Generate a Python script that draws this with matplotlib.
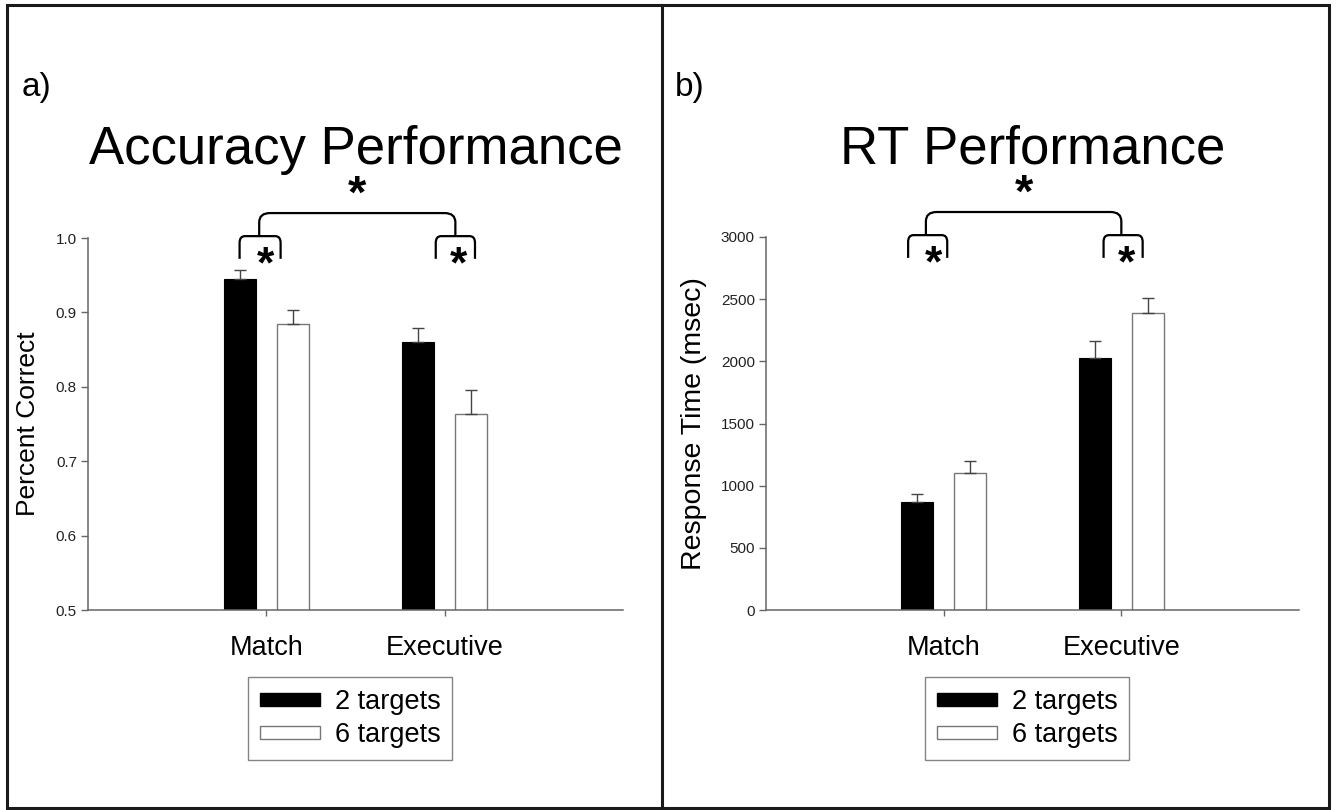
import numpy as np
import matplotlib
matplotlib.use('Agg')
import matplotlib.pyplot as plt
from matplotlib.path import Path
from matplotlib.patches import PathPatch, Patch, Rectangle
from matplotlib.lines import Line2D
import matplotlib.transforms as mtransforms

plt.rcParams['font.family'] = ['Liberation Sans', 'DejaVu Sans']

# Data
conditions = ['Match', 'Executive']
series_names = ['2 targets', '6 targets']

acc_2 = [0.945, 0.860]
acc_2_err = [0.012, 0.019]
acc_6 = [0.884, 0.763]
acc_6_err = [0.019, 0.033]

rt_2 = [869, 2027]
rt_2_err = [64, 136]
rt_6 = [1102, 2389]
rt_6_err = [96, 120]

acc_ticks = [0.5, 0.6, 0.7, 0.8, 0.9, 1.0]
rt_ticks = [0, 500, 1000, 1500, 2000, 2500, 3000]

W, H = 1339, 810
fig = plt.figure(figsize=(W / 100, H / 100), dpi=100)

spine_col = '#666666'
x = np.arange(len(conditions))
bw = 0.18
off = 0.15


def bracket(ax, x0, x1, y_bot, y_top, rx, ry, lw=1.6):
    # x in data units, y in axes fraction
    trans = mtransforms.blended_transform_factory(ax.transData, ax.transAxes)
    verts = [(x0, y_bot), (x0, y_top - ry), (x0, y_top), (x0 + rx, y_top),
             (x1 - rx, y_top), (x1, y_top), (x1, y_top - ry), (x1, y_bot)]
    codes = [Path.MOVETO, Path.LINETO, Path.CURVE3, Path.CURVE3,
             Path.LINETO, Path.CURVE3, Path.CURVE3, Path.LINETO]
    ax.add_patch(PathPatch(Path(verts, codes), fill=False, lw=lw,
                           edgecolor='black', transform=trans, clip_on=False))


def star(ax, xs, ys, size):
    trans = mtransforms.blended_transform_factory(ax.transData, ax.transAxes)
    ax.text(xs, ys, '*', transform=trans, ha='center', va='center',
            fontsize=size, fontweight='bold', clip_on=False)


def panel(rect, v2, e2, v6, e6, ylim, yticks, ylabel, ylabel_size, ylabel_x,
          title, letter, letter_x, brk):
    ax = fig.add_axes(rect)
    ax.bar(x - off, v2, bw, color='black', edgecolor='black', lw=0.8)
    ax.bar(x + off, v6, bw, color='white', edgecolor='#777777', lw=1.0)
    ax.errorbar(x - off, v2, yerr=[np.zeros(2), e2], fmt='none',
                ecolor='#444444', elinewidth=1.0, capsize=4, capthick=1.0)
    ax.errorbar(x + off, v6, yerr=[np.zeros(2), e6], fmt='none',
                ecolor='#444444', elinewidth=1.0, capsize=4, capthick=1.0)
    ax.set_xlim(-1, 2)
    ax.set_ylim(*ylim)
    ax.set_yticks(yticks)
    ax.set_xticks(x)
    ax.set_xticklabels(conditions, fontsize=19.5)
    if ylim[1] < 2:
        ax.set_yticklabels(['%.1f' % t for t in yticks])
    for s in ['top', 'right']:
        ax.spines[s].set_visible(False)
    for s in ['left', 'bottom']:
        ax.spines[s].set_color(spine_col)
        ax.spines[s].set_linewidth(1.1)
    ax.tick_params(axis='y', direction='out', length=5, width=1,
                   color=spine_col, labelsize=11, pad=3, labelcolor='#222222')
    ax.tick_params(axis='x', direction='out', length=4, width=1,
                   color=spine_col, pad=14, labelcolor='black')
    ax.set_ylabel(ylabel, fontsize=ylabel_size)
    ax.yaxis.set_label_coords(ylabel_x, 0.5)
    ax.set_title(title, fontsize=38, pad=53)

    fig.text(letter_x, 1 - 96 / H, letter, fontsize=24)

    # significance brackets
    (s1, s2, big) = brk
    bracket(ax, s1[0], s1[1], 0.944, 1.005, 0.03, 0.018)
    bracket(ax, s2[0], s2[1], 0.944, 1.005, 0.03, 0.018)
    bracket(ax, big[0], big[1], 1.005, 1.067, 0.06, 0.025)
    star(ax, (s1[0] + s1[1]) / 2 + 0.03, 0.925, 32)
    star(ax, (s2[0] + s2[1]) / 2 + 0.02, 0.925, 32)
    star(ax, (big[0] + big[1]) / 2, 1.113, 34)

    handles = [Patch(facecolor='black', edgecolor='black'),
               Patch(facecolor='white', edgecolor='#777777')]
    leg = ax.legend(handles, series_names, loc='upper center',
                    bbox_to_anchor=(0.49, -0.18), fontsize=19.5,
                    frameon=True, fancybox=False, handlelength=2.2,
                    handleheight=0.37, handletextpad=0.55, labelspacing=0.25,
                    borderpad=0.45, borderaxespad=0)
    leg.get_frame().set_edgecolor('#666666')
    leg.get_frame().set_linewidth(1.0)
    return ax


ax1 = panel([88 / W, 1 - 610 / H, 535 / W, 372 / H], acc_2, acc_2_err,
            acc_6, acc_6_err, (0.5, 1.0), acc_ticks, 'Percent Correct', 19,
            -0.09, 'Accuracy Performance', 'a)', 22 / W,
            ((-0.15, 0.08), (0.95, 1.17), (-0.04, 1.06)))
ax2 = panel([766 / W, 1 - 610 / H, 533 / W, 373 / H], rt_2, rt_2_err,
            rt_6, rt_6_err, (0, 3000), rt_ticks, 'Response Time (msec)', 20.5,
            -0.11, 'RT Performance', 'b)', 675 / W,
            ((-0.2, 0.02), (0.9, 1.12), (-0.1, 1.0)))

# outer frame and divider
frame = Rectangle((7 / W, 1 - 808 / H), (1329 - 7) / W, (808 - 5) / H,
                  transform=fig.transFigure, fill=False, lw=2.2,
                  edgecolor='#1a1a1a')
fig.patches.append(frame)
fig.lines.append(Line2D([662 / W, 662 / W], [1 - 808 / H, 1 - 5 / H],
                        transform=fig.transFigure, lw=2.2, color='#1a1a1a'))

fig.savefig('out.png', dpi=100)
